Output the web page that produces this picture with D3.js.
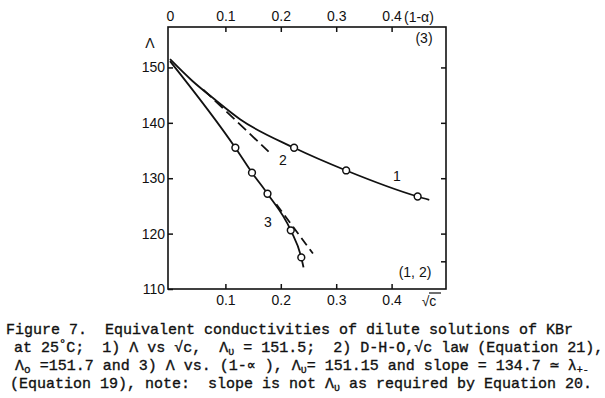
<!DOCTYPE html>
<html>
<head>
<meta charset="utf-8">
<script src="https://cdn.jsdelivr.net/npm/d3@7"></script>
<style>
  body { margin: 0; background: #fff; }
  svg text { fill: #111; }
  .ax text { font-family: "Liberation Sans", Arial, sans-serif; font-size: 14px; fill: #111; }
  .caption { font-family: "Liberation Mono", "DejaVu Sans Mono", monospace; font-size: 15px; }
  .caption text { stroke: #111; stroke-width: 0.35px; }
</style>
</head>
<body>
<svg id="chart" width="605" height="398"></svg>
<script>
  // tick values
  const bottomTicks = [0.1, 0.2, 0.3, 0.4];
  const topTicks = [0, 0.1, 0.2, 0.3, 0.4];
  const leftTicks = [110, 120, 130, 140, 150];
  const rightTicks = [150, 140, 130, 120, 115];

  // 1) Λ vs √c  (measured points and the drawn curve)
  const pts1X = [0.224, 0.318, 0.447];
  const pts1Y = [135.5, 131.4, 126.7];
  const curve1X = [0, 0.04, 0.081, 0.127, 0.224, 0.318, 0.447, 0.468];
  const curve1Y = [151.5, 147.6, 144.2, 140.6, 135.5, 131.4, 126.7, 126.1];

  // 2) D-H-O limiting law, dashed
  const line2X = [0.06, 0.178];
  const line2Y = [146.0, 134.8];

  // 3) Λ vs (1-α)
  const pts3X = [0.118, 0.148, 0.176, 0.218, 0.237];
  const pts3Y = [135.5, 131.0, 127.2, 120.6, 115.7];
  const curve3X = [0, 0.118, 0.148, 0.176, 0.218, 0.237, 0.241];
  const curve3Y = [151.15, 135.5, 131.0, 127.2, 120.6, 115.7, 113.9];
  // straight line of slope 134.7, dashed extension
  const line3X = [0.192, 0.258];
  const line3Y = [125.3, 116.4];

  const svg = d3.select('#chart');
  const L = 168, R = 446, T = 27, B = 289;

  const x = d3.scaleLinear().domain([0, 0.5]).range([170, 447]);
  const y = d3.scaleLinear().domain([110, 157.3]).range([B, T]);

  const zip = (xs, ys) => xs.map((v, i) => [v, ys[i]]);

  // frame
  svg.append('rect')
     .attr('x', L).attr('y', T)
     .attr('width', R - L).attr('height', B - T)
     .attr('fill', 'none').attr('stroke', '#111').attr('stroke-width', 1.6);

  const fmt = d => d === 0 ? '0' : d3.format('.1f')(d);

  const gb = svg.append('g').attr('class', 'ax').attr('transform', `translate(0,${B})`)
    .call(d3.axisBottom(x).tickValues(bottomTicks).tickFormat(fmt).tickSize(-5).tickSizeOuter(0).tickPadding(6));
  const gt = svg.append('g').attr('class', 'ax').attr('transform', `translate(0,${T})`)
    .call(d3.axisTop(x).tickValues(topTicks).tickFormat(fmt).tickSize(-5).tickSizeOuter(0).tickPadding(6));
  const gl = svg.append('g').attr('class', 'ax').attr('transform', `translate(${L},0)`)
    .call(d3.axisLeft(y).tickValues(leftTicks).tickSize(-5).tickSizeOuter(0).tickPadding(3));
  const gr = svg.append('g').attr('class', 'ax').attr('transform', `translate(${R},0)`)
    .call(d3.axisRight(y).tickValues(rightTicks).tickFormat('').tickSize(-5).tickSizeOuter(0));
  [gb, gt, gl, gr].forEach(g => {
    g.select('.domain').remove();
    g.selectAll('.tick line').attr('stroke', '#111').attr('stroke-width', 1.5);
  });
  gt.selectAll('.tick').filter(d => d === 0).select('line').remove();

  const line = d3.line().x(d => x(d[0])).y(d => y(d[1]));
  const smooth = d3.line().x(d => x(d[0])).y(d => y(d[1])).curve(d3.curveMonotoneX);

  const drawPath = (data, gen, dash) => svg.append('path')
    .attr('d', gen(data))
    .attr('fill', 'none')
    .attr('stroke', '#111')
    .attr('stroke-width', 1.8)
    .attr('stroke-dasharray', dash || null);

  drawPath(zip(curve1X, curve1Y), smooth);
  drawPath(zip(curve3X, curve3Y), smooth);
  drawPath(zip(line2X, line2Y), line, '11,5');
  drawPath(zip(line3X, line3Y), line, '9,5');

  const dots = pts => svg.append('g').selectAll('circle').data(pts).enter()
    .append('circle')
    .attr('cx', d => x(d[0])).attr('cy', d => y(d[1]))
    .attr('r', 3.4)
    .attr('fill', '#fff').attr('stroke', '#111').attr('stroke-width', 1.5);
  dots(zip(pts1X, pts1Y));
  dots(zip(pts3X, pts3Y));

  // chart annotations
  const lab = (tx, ty, s, anchor) => svg.append('text')
    .attr('x', tx).attr('y', ty).attr('text-anchor', anchor || 'middle')
    .style('font-family', '"Liberation Sans", Arial, sans-serif')
    .style('font-size', '14px')
    .text(s);
  lab(150, 48, 'Λ');
  lab(404, 22, '(1-α)', 'start');
  lab(424, 43, '(3)');
  lab(415, 277, '(1, 2)');
  lab(397, 181, '1');
  lab(283, 165, '2');
  lab(268, 227, '3');
  lab(429, 306, '√c');
  svg.append('line').attr('x1', 429).attr('x2', 441).attr('y1', 293).attr('y2', 293)
     .attr('stroke', '#111').attr('stroke-width', 1.2);

  // caption
  const cap = svg.append('g').attr('class', 'caption');
  const capLine = (cx, cy, parts) => {
    const t = cap.append('text').attr('x', cx).attr('y', cy).attr('xml:space', 'preserve');
    parts.forEach(p => {
      if (typeof p === 'string') t.append('tspan').text(p);
      else t.append('tspan').attr('font-size', p.size || 10).attr('dy', p.dy).text(p.t);
    });
  };
  capLine(6, 334, ['Figure 7.  Equivalent conductivities of dilute solutions of KBr']);
  capLine(14, 352, ['at 25', {t: '°', dy: -4, size: 12}, {t: 'C;  1) Λ vs √c,  Λ', dy: 4, size: 15},
    {t: 'υ', dy: 3}, {t: ' = 151.5;  2) D-H-O,√c law (Equation 21),', dy: -3, size: 15}]);
  capLine(15, 370, ['Λ', {t: 'o', dy: 3, size: 11}, {t: ' =151.7 and 3) Λ vs. (1-∝ ), Λ', dy: -3, size: 15},
    {t: 'υ', dy: 3}, {t: '= 151.15 and slope = 134.7 ≃ λ', dy: -3, size: 15}, {t: '+-', dy: 3}]);
  capLine(10, 388, ['(Equation 19), note:  slope is not Λ', {t: 'υ', dy: 3},
    {t: ' as required by Equation 20.', dy: -3, size: 15}]);
</script>
</body>
</html>
